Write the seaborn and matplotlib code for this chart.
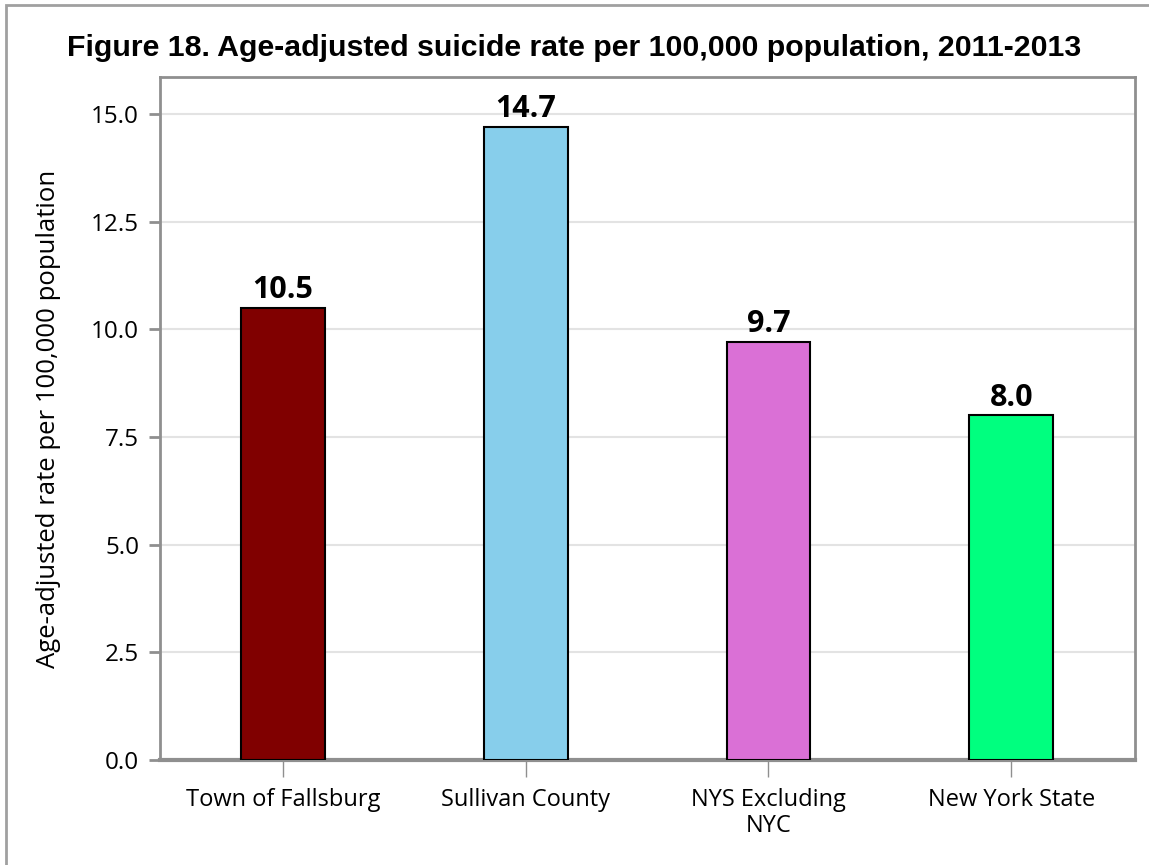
import matplotlib
matplotlib.use("Agg")
import matplotlib.pyplot as plt
import seaborn as sns
import pandas as pd
from matplotlib.patches import Rectangle

categories = ["Town of Fallsburg", "Sullivan County", "NYS Excluding\nNYC", "New York State"]
values = [10.5, 14.7, 9.7, 8.0]
colors = ["#800000", "#87CEEB", "#DA70D6", "#00FF7F"]
yticks = [0.0, 2.5, 5.0, 7.5, 10.0, 12.5, 15.0]
title = "Figure 18. Age-adjusted suicide rate per 100,000 population, 2011-2013"
ylabel = "Age-adjusted rate per 100,000 population"

sns.set_theme(style="white")
plt.rcParams['font.family'] = ['Open Sans', 'DejaVu Sans']
plt.rcParams['text.color'] = 'black'
plt.rcParams['axes.labelcolor'] = 'black'
plt.rcParams['xtick.color'] = 'black'
plt.rcParams['ytick.color'] = 'black'

df = pd.DataFrame({"cat": categories, "val": values})

fig = plt.figure(figsize=(11.49, 8.65), dpi=100)
ax = fig.add_axes([160/1149, 105/865, (1135-160)/1149, (760-77)/865])

sns.barplot(data=df, x="cat", y="val", hue="cat", palette=colors, legend=False,
            saturation=1, width=0.346, edgecolor="black", linewidth=1.5, ax=ax, zorder=3)

ax.set_xlim(-0.507, 3.51)
ax.set_ylim(0, 15.86)
ax.set_yticks(yticks)
ax.set_yticklabels([f"{v:.1f}" for v in yticks], fontsize=17.5)
ax.set_xticks(range(len(categories)))
ax.set_xticklabels(categories, fontsize=17, linespacing=1.15)
ax.set_xlabel("")
ax.set_ylabel(ylabel, fontsize=18.5, labelpad=22)

ax.yaxis.grid(True, color="#e3e3e3", linewidth=1.5, zorder=0)
ax.set_axisbelow(True)

for s in ax.spines.values():
    s.set_color("#8f8f8f")
    s.set_linewidth(2)
ax.spines["bottom"].set_linewidth(3)

ax.tick_params(axis="y", which="major", left=True, length=8, width=2, color="#8f8f8f", pad=7,
               labelcolor="black")
ax.tick_params(axis="x", which="major", bottom=True, length=12, width=1, color="#8f8f8f", pad=8,
               labelcolor="black")

for i, v in enumerate(values):
    ax.annotate(f"{v:.1f}", xy=(i, v), xytext=(0, 2), textcoords="offset points",
                ha="center", va="bottom", fontsize=22, fontweight="bold", color="black")

fig.text(0.5, 1 - 48/865, title, ha="center", va="center", fontsize=21.8,
         fontweight="bold", color="black", family=["Liberation Sans", "DejaVu Sans"])

fig.patches.append(Rectangle((6/1149, -0.1), 1.2, 1 - 5/865 + 0.1, transform=fig.transFigure,
                             fill=False, edgecolor="#a0a0a0", linewidth=2, zorder=0))

fig.savefig("out.png", dpi=100)
